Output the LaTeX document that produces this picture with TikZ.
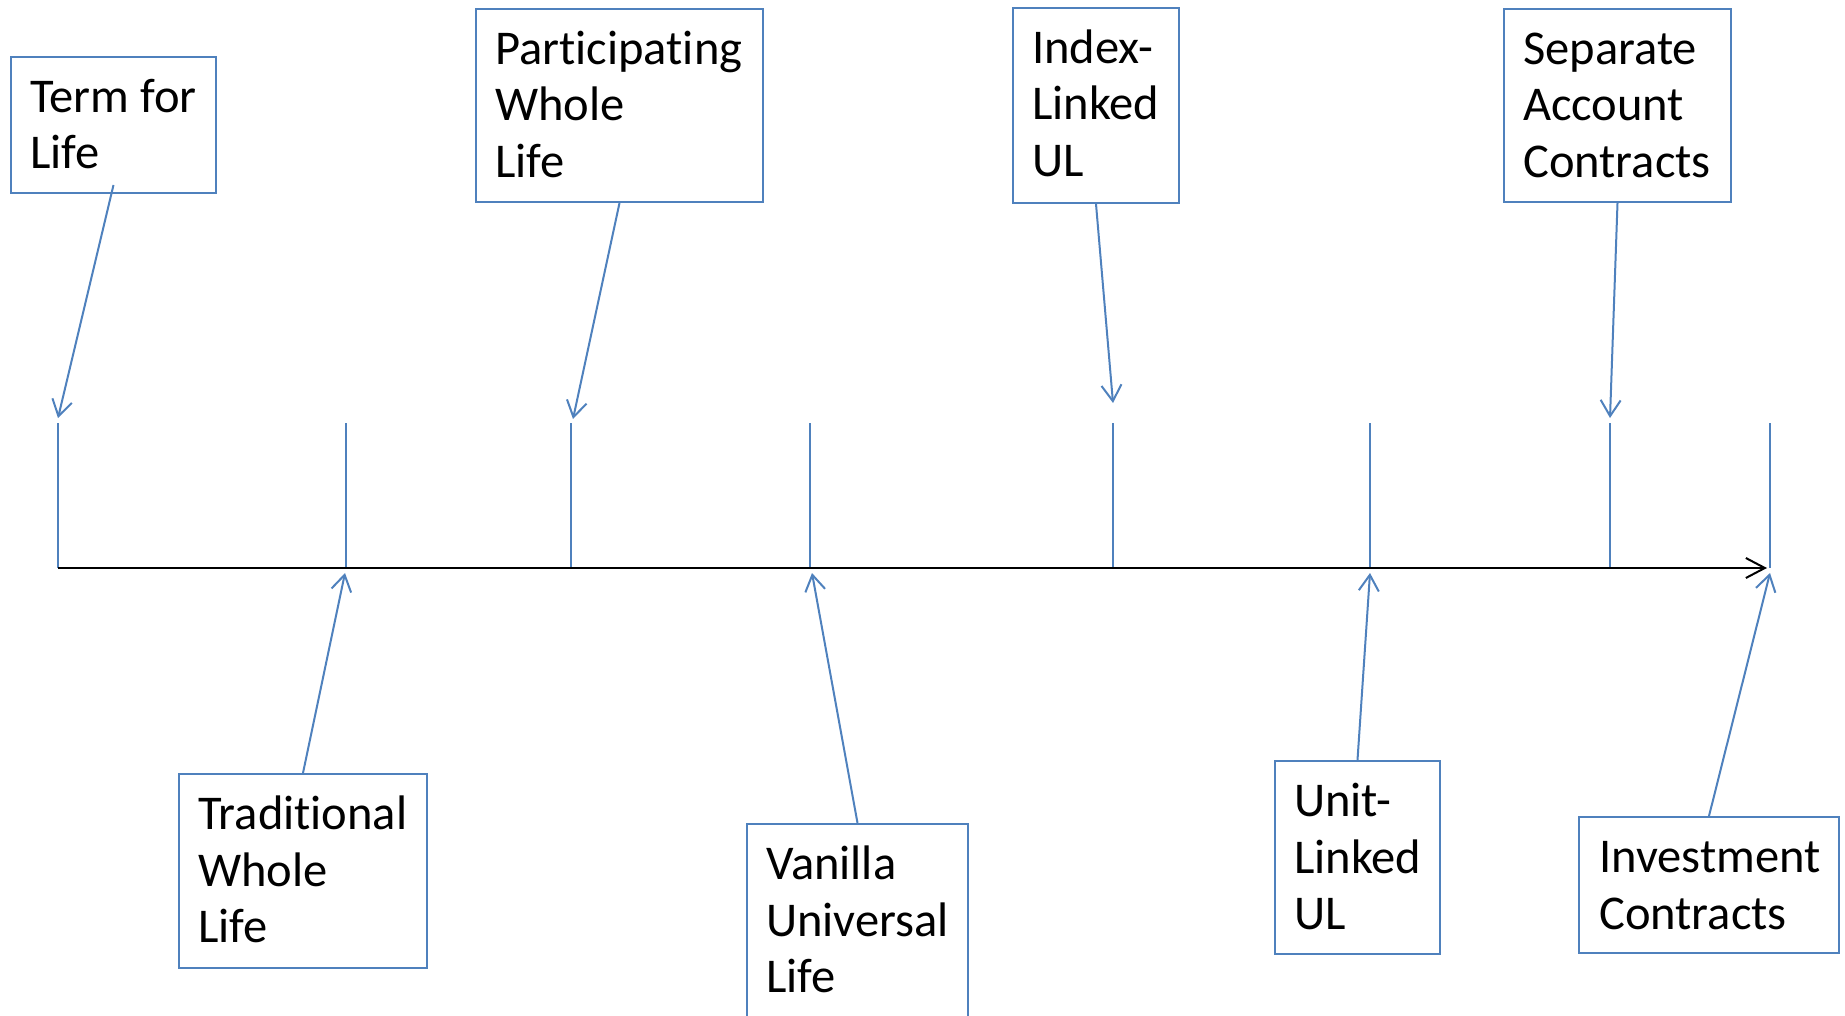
\documentclass[tikz,border=0pt]{standalone}
\usepackage{fontspec}
\setmainfont{Carlito}[Ligatures={NoCommon}]
\usetikzlibrary{arrows.meta}
\definecolor{boxblue}{RGB}{79,129,189}
\begin{document}
\begin{tikzpicture}[x=1pt,y=-1pt,
  box/.style={draw=boxblue, line width=2pt, rectangle, inner sep=0pt, anchor=north west},
  lbl/.style={anchor=base west, inner sep=0pt, align=left, font=\fontsize{48.5}{56.5}\selectfont},
  conn/.style={draw=boxblue, line width=2pt, -{Straight Barb[length=16pt,width=20pt]}},
  tickline/.style={draw=boxblue, line width=2pt},
  axisline/.style={draw=black, line width=2pt, -{Straight Barb[length=19pt,width=20pt]}}]
\useasboundingbox (0,0) rectangle (1845,1016);
\clip (0,0) rectangle (1845,1016);

% boxes
\node[box, minimum width=205pt, minimum height=136pt] (term) at (10,56) {};
\node[box, minimum width=287pt, minimum height=193pt] (part) at (475,8) {};
\node[box, minimum width=166pt, minimum height=195pt] (index) at (1012,7) {};
\node[box, minimum width=227pt, minimum height=193pt] (sep) at (1503,8) {};
\node[box, minimum width=248pt, minimum height=194pt] (trad) at (178,773) {};
\node[box, minimum width=221pt, minimum height=230pt] (van) at (746,823) {};
\node[box, minimum width=165pt, minimum height=193pt] (unit) at (1274,760) {};
\node[box, minimum width=260pt, minimum height=136pt] (inv) at (1578,816) {};

% labels (anchor = baseline of last line)
\node[lbl] (termL) at ([shift={(20,113)}]term.north west) {Term for\\Life};
\node[lbl] (partL) at ([shift={(20,169.5)}]part.north west) {Participating\\Whole\\Life};
\node[lbl] (indexL) at ([shift={(20,169.5)}]index.north west) {Index-\\Linked\\UL};
\node[lbl] (sepL) at ([shift={(20,169.5)}]sep.north west) {Separate\\Account\\Contracts};
\node[lbl] (tradL) at ([shift={(20,169.5)}]trad.north west) {Traditional\\Whole\\Life};
\node[lbl] (vanL) at ([shift={(20,169.5)}]van.north west) {Vanilla\\Universal\\Life};
\node[lbl] (unitL) at ([shift={(20,169.5)}]unit.north west) {Unit-\\Linked\\UL};
\node[lbl] (invL) at ([shift={(21,113)}]inv.north west) {Investment\\Contracts};

% ticks
\foreach \n/\x in {1/58,2/346,3/571,4/810,5/1113,6/1370,7/1610,8/1770}{
  \coordinate (t\n top) at (\x,423);
  \coordinate (t\n bot) at (\x,568);
}
\foreach \n in {1,...,8}{\draw[tickline] (t\n top) -- (t\n bot);}

% axis
\coordinate (axstart) at (58,568);
\coordinate (axend) at (1767,568);
\draw[axisline] (axstart) -- (axend);

% arrow ends
\coordinate (eTerm) at (58,418);
\coordinate (ePart) at (573,419);
\coordinate (eIndex) at (1113,403);
\coordinate (eSep) at (1610,418);
\coordinate (eTrad) at (345,573);
\coordinate (eVan) at (812,573);
\coordinate (eUnit) at (1370,573);
\coordinate (eInv) at (1770,573);

\draw[conn] ([yshift=9pt]term.south) -- (eTerm);
\draw[conn] (part.south) -- (ePart);
\draw[conn] (index.south) -- (eIndex);
\draw[conn] (sep.south) -- (eSep);
\draw[conn] (trad.north) -- (eTrad);
\draw[conn] (van.north) -- (eVan);
\draw[conn] (unit.north) -- (eUnit);
\draw[conn] (inv.north) -- (eInv);
\end{tikzpicture}
\end{document}
